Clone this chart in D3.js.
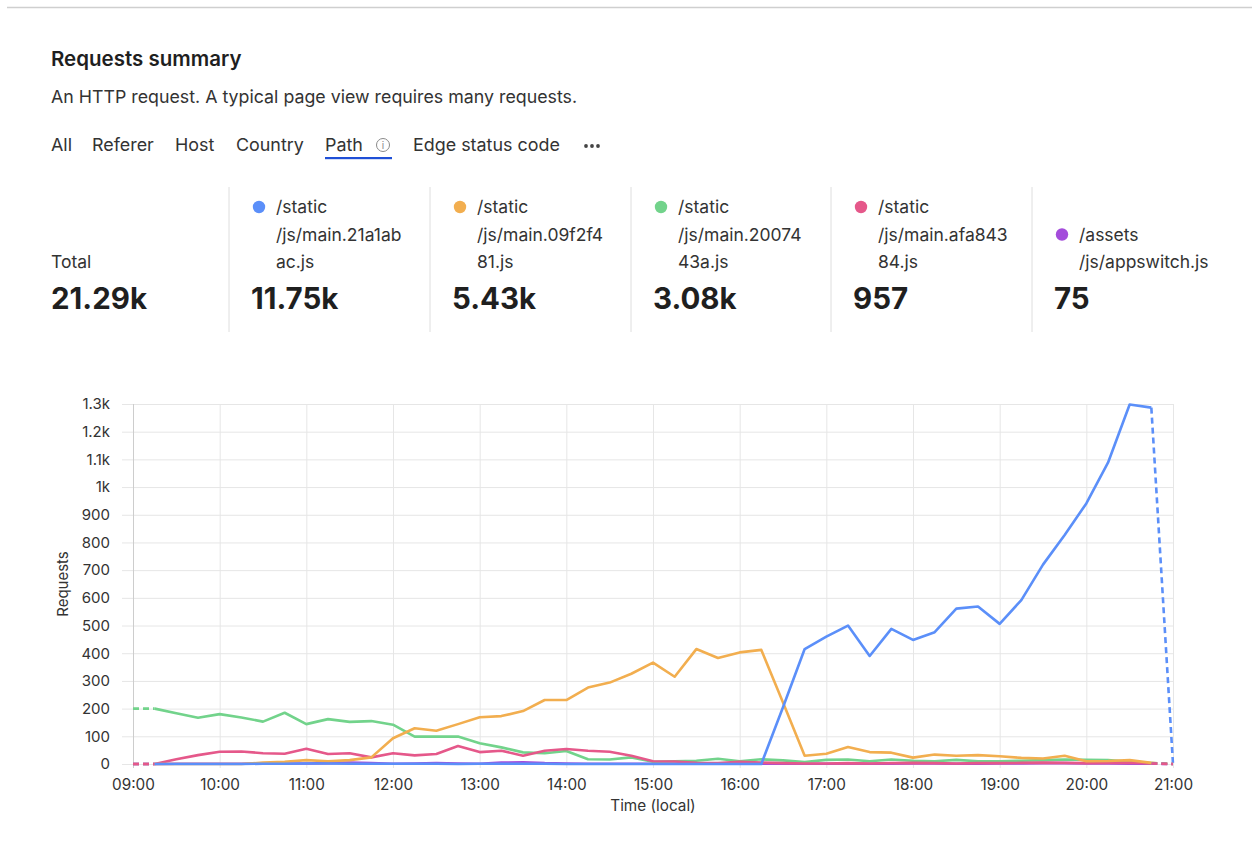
<!DOCTYPE html>
<html><head><meta charset="utf-8">
<script src="https://cdn.jsdelivr.net/npm/d3@7"></script>
<style>
html,body{margin:0;padding:0;background:#fff;}
svg{display:block;font-family:Inter,"Noto Sans",sans-serif;}
</style></head>
<body><svg id="chart" width="1252" height="853"></svg>
<script>
// ---------------- DATA ----------------
const times = ["09:00","09:15","09:30","09:45","10:00","10:15","10:30","10:45",
  "11:00","11:15","11:30","11:45","12:00","12:15","12:30","12:45",
  "13:00","13:15","13:30","13:45","14:00","14:15","14:30","14:45",
  "15:00","15:15","15:30","15:45","16:00","16:15","16:30","16:45",
  "17:00","17:15","17:30","17:45","18:00","18:15","18:30","18:45",
  "19:00","19:15","19:30","19:45","20:00","20:15","20:30","20:45","21:00"];

const seriesLabels = [
  ["/static", "/js/main.21a1ab", "ac.js"],
  ["/static", "/js/main.09f2f4", "81.js"],
  ["/static", "/js/main.20074", "43a.js"],
  ["/static", "/js/main.afa843", "84.js"],
  ["/assets", "/js/appswitch.js"]
];
const totalLabel = "Total";
const totalValue = "21.29k";
const seriesTotals = ["11.75k", "5.43k", "3.08k", "957", "75"];

const mainBlue = [0,0,0,0,0,0,1,1,2,2,1,1,1,1,1,0,1,1,1,1,0,0,0,0,0,0,0,0,0,0,
  205,415,460,500,390,488,448,476,561,569,506,592,720,827,941,1088,1298,1287,0];
const mainOrange = [0,0,0,0,0,0,5,8,14,10,14,24,93,129,120,144,169,173,191,231,
  231,276,294,326,366,315,415,383,403,412,222,30,37,61,43,41,23,34,30,32,
  28,22,20,30,10,11,14,4,0];
const mainGreen = [200,200,183,167,180,168,153,185,144,162,152,155,142,99,99,99,
  75,60,42,39,47,17,16,24,8,10,12,19,10,17,13,7,15,16,10,16,12,10,15,10,
  10,12,14,16,15,14,8,3,0];
const mainPink = [0,0,17,32,44,45,39,37,55,36,39,24,39,31,36,65,43,48,30,48,
  54,48,44,30,10,9,4,3,8,5,3,2,2,3,2,3,4,3,2,3,3,4,5,4,3,4,5,2,0];
const appswitch = [0,0,1,1,1,1,2,2,2,3,5,3,1,2,3,2,1,5,6,3,2,1,1,1,1,1,1,1,
  1,1,1,1,1,1,1,1,2,2,1,1,2,2,3,3,2,2,1,1,0];

const yTicks = [0,100,200,300,400,500,600,700,800,900,1000,1100,1200,1300];
const xTickLabels = ["09:00","10:00","11:00","12:00","13:00","14:00","15:00",
  "16:00","17:00","18:00","19:00","20:00","21:00"];
const tabs = ["All","Referer","Host","Country","Path","Edge status code"];

// ---------------- STYLE ----------------
const colors = ["#5b8ff9", "#f2ae4f", "#72d38b", "#e5588a", "#a44cdb"];
const seriesValues = [mainBlue, mainOrange, mainGreen, mainPink, appswitch];

const svg = d3.select("#chart");
const textDark = "#1f1f1f", textMid = "#333";

// top rule
svg.append("line").attr("x1",7).attr("x2",1252).attr("y1",7.5).attr("y2",7.5)
  .attr("stroke","#cfcfcf").attr("stroke-width",1.5);

svg.append("text").attr("x",51).attr("y",66).attr("font-size",20.5).attr("font-weight",600)
  .attr("fill",textDark).text("Requests summary");
svg.append("text").attr("x",51).attr("y",103).attr("font-size",17.8)
  .attr("fill",textMid).text("An HTTP request. A typical page view requires many requests.");

// tabs
const tabX = [51, 92, 175, 236, 325, 413];
const tabG = svg.append("g");
tabs.forEach((t,i)=>{
  tabG.append("text").attr("x",tabX[i]).attr("y",151).attr("font-size",17.9)
    .attr("fill",textMid).text(t);
});
// info icon
tabG.append("circle").attr("cx",383).attr("cy",145).attr("r",6.5)
  .attr("fill","none").attr("stroke","#8a8a8a").attr("stroke-width",1);
tabG.append("text").attr("x",383).attr("y",149).attr("text-anchor","middle")
  .attr("font-size",10).attr("fill","#8a8a8a").text("i");
// active underline
tabG.append("rect").attr("x",325).attr("y",157).attr("width",67).attr("height",2.2)
  .attr("fill","#1f4fd6");
// more dots
[586,592,598].forEach(cx=>tabG.append("circle").attr("cx",cx).attr("cy",146).attr("r",1.9).attr("fill","#444"));

// stats
const colX = [51, 251, 452, 653, 853, 1054];
const statG = svg.append("g");
colX.slice(1).forEach(cx=>{
  statG.append("line").attr("x1",cx-22).attr("x2",cx-22).attr("y1",187).attr("y2",332)
    .attr("stroke","#dedede").attr("stroke-width",1);
});
statG.append("text").attr("x",colX[0]).attr("y",268).attr("font-size",17.5)
  .attr("fill",textMid).text(totalLabel);
statG.append("text").attr("x",colX[0]).attr("y",309).attr("font-size",29.5).attr("font-weight",700)
  .attr("fill",textDark).text(totalValue);
seriesLabels.forEach((lines,i)=>{
  const x0 = colX[i+1];
  const n = lines.length;
  lines.forEach((ln,j)=>{
    const base = 268 - (n-1-j)*27.5;
    statG.append("text").attr("x",x0+25).attr("y",base).attr("font-size",17.5)
      .attr("fill",textMid).text(ln);
    if(j===0) statG.append("circle").attr("cx",x0+8).attr("cy",base-6).attr("r",6.2).attr("fill",colors[i]);
  });
  statG.append("text").attr("x",x0).attr("y",309).attr("font-size",29.5).attr("font-weight",700)
    .attr("fill",textDark).text(seriesTotals[i]);
});

// ---------------- CHART ----------------
const parse = d3.timeParse("%H:%M");
const L = 133, R = 1173, T = 404, B = 764;
const x = d3.scaleTime().domain([parse(times[0]), parse(times[times.length-1])]).range([L,R]);
const y = d3.scaleLinear().domain([0,1300]).range([B,T]);
const fmtY = v => v>=1000 ? (d3.format(".2~f")(v/1000)+"k") : String(v);
const xTickDates = xTickLabels.map(parse);

// grids
const gridY = svg.append("g").attr("transform",`translate(${R},0)`)
  .call(d3.axisLeft(y).tickValues(yTicks).tickSize(R-122).tickFormat(""));
gridY.select(".domain").remove();
gridY.selectAll("line").attr("stroke","#e6e6e6").attr("stroke-width",1);

const gridX = svg.append("g").attr("transform",`translate(0,${T})`)
  .call(d3.axisBottom(x).tickValues(xTickDates).tickSize(B-T+4).tickFormat(""));
gridX.select(".domain").remove();
gridX.selectAll("line").attr("stroke",(d,i)=> i===0 ? "#cdcdcd" : "#e6e6e6").attr("stroke-width",1);

// axis labels
const axY = svg.append("g").attr("transform",`translate(122,0)`)
  .call(d3.axisLeft(y).tickValues(yTicks).tickSize(0).tickPadding(12).tickFormat(fmtY));
axY.select(".domain").remove();
axY.selectAll("text").attr("font-size",15).attr("fill",textMid).attr("font-family","Inter, sans-serif");

const axX = svg.append("g").attr("transform",`translate(0,${B})`)
  .call(d3.axisBottom(x).tickValues(xTickDates).tickSize(0).tickPadding(15).tickFormat(d3.timeFormat("%H:%M")));
axX.select(".domain").remove();
axX.selectAll("text").attr("font-size",15.3).attr("fill",textMid).attr("font-family","Inter, sans-serif");

svg.append("text").attr("transform",`translate(68,584) rotate(-90)`).attr("text-anchor","middle")
  .attr("font-size",15).attr("fill",textMid).text("Requests");
svg.append("text").attr("x",(L+R)/2).attr("y",811).attr("text-anchor","middle")
  .attr("font-size",15.3).attr("fill",textMid).text("Time (local)");

// lines: dashed partial-bucket segments first, solid segments on top
const line = d3.line().x(d=>x(d.t)).y(d=>y(d.v));
const ptsOf = si => seriesValues[si].map((v,i)=>({t:parse(times[i]), v}));
const lineG = svg.append("g");
const dashOrder = [0,1,2,4,3];
dashOrder.forEach(si=>{
  const pts = ptsOf(si), n = pts.length;
  [pts.slice(0,2), pts.slice(n-2)].forEach(seg=>{
    lineG.append("path").datum(seg).attr("d",line)
      .attr("fill","none").attr("stroke",colors[si]).attr("stroke-width",2.6)
      .attr("stroke-dasharray","6,4");
  });
});
const order = [4,2,3,1,0];
order.forEach(si=>{
  const pts = ptsOf(si), n = pts.length;
  lineG.append("path").datum(pts.slice(1,n-1)).attr("d",line)
    .attr("fill","none").attr("stroke",colors[si]).attr("stroke-width",2.6)
    .attr("stroke-linejoin","round");
});
</script></body></html>
